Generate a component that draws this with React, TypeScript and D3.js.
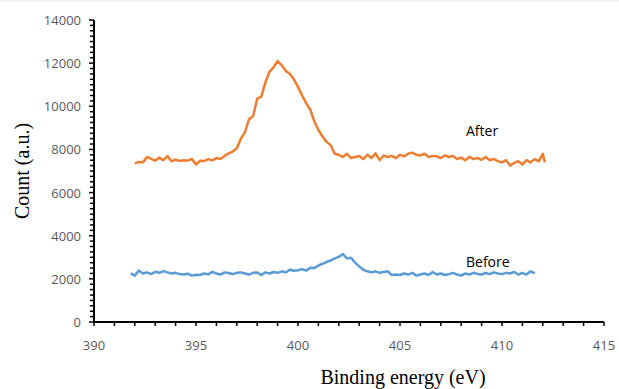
import { useRef, useEffect } from 'react';
import * as d3 from 'd3';

// XPS N1s spectra, counts sampled every 0.2 eV
const step = 0.2;
const afterStart = 392.0;
const afterCounts = [
  7350, 7420, 7400, 7650, 7560, 7480, 7620, 7500, 7690, 7450,
  7520, 7470, 7500, 7480, 7560, 7300, 7480, 7460, 7550, 7490,
  7600, 7560, 7700, 7820, 7900, 8050, 8500, 8800, 9400, 9550,
  10350, 10450, 11100, 11600, 11800, 12100, 11900, 11650, 11500, 11250,
  10900, 10500, 10150, 9850, 9300, 8900, 8600, 8350, 8200, 7800,
  7750, 7650, 7800, 7600, 7650, 7700, 7550, 7750, 7600, 7820,
  7500, 7720, 7650, 7700, 7600, 7750, 7680, 7800, 7850, 7750,
  7720, 7800, 7650, 7700, 7680, 7600, 7720, 7650, 7700, 7550,
  7620, 7500, 7650, 7550, 7600, 7520, 7650, 7500, 7560, 7450,
  7400, 7500, 7250, 7380, 7450, 7300, 7500, 7400, 7550, 7450,
  7800, 7400,
];

const beforeStart = 391.8;
const beforeCounts = [
  2250, 2150, 2380, 2250, 2300, 2220, 2330, 2280, 2360, 2300,
  2250, 2280, 2220, 2200, 2240, 2150, 2190, 2180, 2250, 2210,
  2320, 2250, 2200, 2300, 2270, 2220, 2280, 2300, 2250, 2200,
  2280, 2300, 2180, 2300, 2250, 2320, 2280, 2350, 2300, 2420,
  2380, 2400, 2450, 2380, 2520, 2500, 2620, 2700, 2780, 2850,
  2950, 3020, 3150, 2950, 2980, 2750, 2580, 2420, 2350, 2300,
  2350, 2280, 2320, 2350, 2180, 2200, 2180, 2250, 2200, 2280,
  2150, 2200, 2250, 2180, 2320, 2200, 2250, 2180, 2220, 2280,
  2200, 2150, 2250, 2200, 2280, 2230, 2200, 2270, 2220, 2300,
  2250, 2220, 2280, 2250, 2320, 2200, 2280, 2200, 2350, 2250,
];

const xTicks = [390, 395, 400, 405, 410, 415];
const yTicks = [0, 2000, 4000, 6000, 8000, 10000, 12000, 14000];

const W = 619;
const H = 389;

const Chart = () => {
  const ref = useRef<SVGSVGElement>(null);

  useEffect(() => {
    const svg = d3.select(ref.current);
    svg.selectAll('*').remove();

    const x = d3.scaleLinear([390, 415], [94, 604]);
    const y = d3.scaleLinear([0, 14000], [322, 20]);

    // faint frame line at the top
    svg.append('line')
      .attr('x1', 0).attr('x2', W).attr('y1', 1).attr('y2', 1)
      .attr('stroke', '#e6e6e6').attr('stroke-width', 1);

    // minor ticks every 1 eV / 250 counts
    const minorX = d3.range(390, 415.01, 1);
    const minorY = d3.range(0, 14000.1, 250);

    const gx = svg.append('g').attr('transform', `translate(0,${y(0)})`);
    gx.selectAll('line.minor').data(minorX).join('line')
      .attr('x1', (d) => x(d)).attr('x2', (d) => x(d))
      .attr('y1', 0).attr('y2', 4)
      .attr('stroke', '#000').attr('stroke-width', 1.5);
    gx.append('line')
      .attr('x1', x(390)).attr('x2', x(415))
      .attr('stroke', '#000').attr('stroke-width', 2);
    gx.selectAll('text').data(xTicks).join('text')
      .attr('x', (d) => x(d)).attr('y', 28)
      .attr('text-anchor', 'middle')
      .attr('font-family', 'Open Sans').attr('font-size', 13)
      .attr('fill', '#595959')
      .text((d) => d);

    const gy = svg.append('g').attr('transform', `translate(${x(390)},0)`);
    gy.selectAll('line.minor').data(minorY).join('line')
      .attr('x1', (d) => (d % 2000 === 0 ? -5 : -4)).attr('x2', 0)
      .attr('y1', (d) => y(d)).attr('y2', (d) => y(d))
      .attr('stroke', '#000').attr('stroke-width', 1.5);
    gy.append('line')
      .attr('y1', y(0)).attr('y2', y(14000))
      .attr('stroke', '#000').attr('stroke-width', 2);
    gy.selectAll('text').data(yTicks).join('text')
      .attr('x', -13).attr('y', (d) => y(d) + 5)
      .attr('text-anchor', 'end')
      .attr('font-family', 'Open Sans').attr('font-size', 13)
      .attr('fill', '#595959')
      .text((d) => d);

    // axis titles
    svg.append('text')
      .attr('transform', `translate(29,171) rotate(-90)`)
      .attr('text-anchor', 'middle')
      .attr('font-family', 'Liberation Serif').attr('font-size', 20)
      .attr('fill', '#000')
      .text('Count (a.u.)');
    svg.append('text')
      .attr('x', 403).attr('y', 384)
      .attr('text-anchor', 'middle')
      .attr('font-family', 'Liberation Serif').attr('font-size', 20)
      .attr('fill', '#000')
      .text('Binding energy (eV)');

    const drawSeries = (vals: number[], start: number, color: string) => {
      const l = d3.line<number>()
        .x((_, i) => x(Math.min(start + i * step, 412.1)))
        .y((d) => y(d));
      svg.append('path')
        .attr('d', l(vals))
        .attr('fill', 'none')
        .attr('stroke', color)
        .attr('stroke-width', 2.5)
        .attr('stroke-linejoin', 'round');
    };

    drawSeries(afterCounts, afterStart, '#ED7D31');
    drawSeries(beforeCounts, beforeStart, '#5B9BD5');

    svg.append('text')
      .attr('x', 466).attr('y', 136)
      .attr('font-family', 'Open Sans').attr('font-size', 14)
      .attr('fill', '#000')
      .text('After');
    svg.append('text')
      .attr('x', 466).attr('y', 267)
      .attr('font-family', 'Open Sans').attr('font-size', 14)
      .attr('fill', '#000')
      .text('Before');
  }, []);

  return <svg ref={ref} width={W} height={H} style={{ display: 'block' }} />;
};

export default function App() {
  return (
    <div style={{ position: 'absolute', left: 0, top: 0 }}>
      <Chart />
    </div>
  );
}
